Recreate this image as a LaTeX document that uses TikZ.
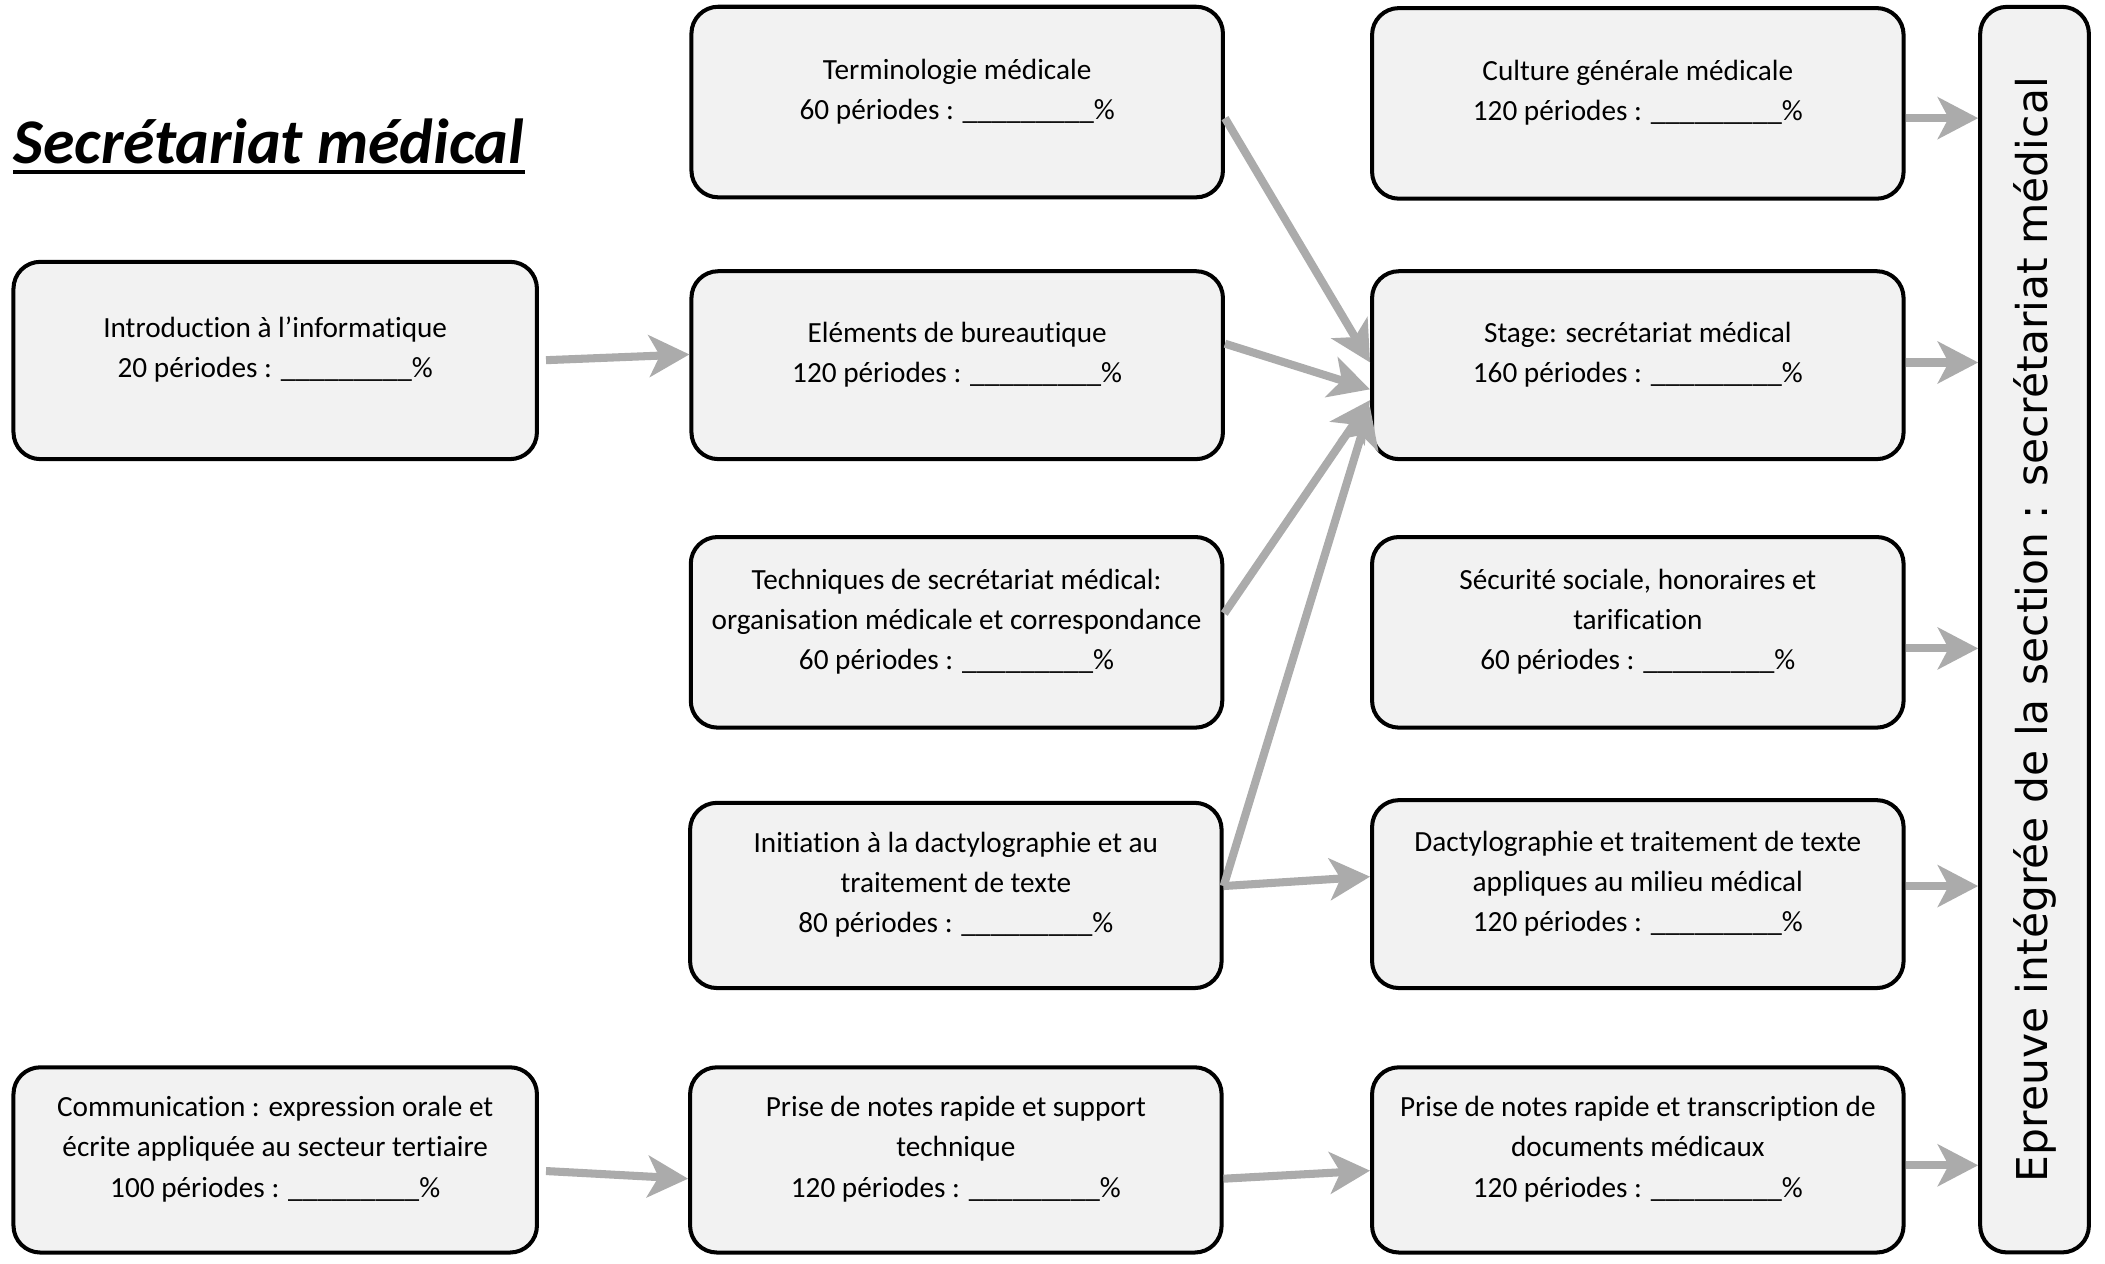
\documentclass[tikz,border=0pt]{standalone}
\usepackage{fontspec}
\setmainfont{Carlito}[Ligatures={TeX,NoCommon,NoContextual}, Contextuals=NoAlternate]
\newfontfamily\epfont{DejaVu Sans}
\usetikzlibrary{arrows.meta}
\definecolor{boxfill}{HTML}{F2F2F2}
\definecolor{arrowgrey}{HTML}{ABABAB}
\newcommand{\pctblank}{\_\_\_\_\_\_\_\_\_\%}

\tikzset{
  module/.style={draw, line width=0.06cm, rounded corners=0.4cm, fill=boxfill,
    minimum width=7.92cm, minimum height=2.8cm},
  modtext/.style={align=center, font=\fontsize{12.4}{17}\selectfont},
  flow/.style={draw=arrowgrey, line width=0.12cm,
    -{Stealth[length=0.6cm, width=0.62cm, inset=0.16cm]}}
}

\begin{document}
\begin{tikzpicture}[x=0.02cm, y=-0.02cm]
\useasboundingbox (0,0) rectangle (1568,941);

% title
\node[anchor=base west, inner sep=0pt, font=\fontsize{27}{32}\selectfont\bfseries\itshape] (title) at (10,122) {Secrétariat médical};
\draw[line width=0.05cm] ([yshift=-0.12cm]title.base west) -- ([yshift=-0.12cm]title.base east);

% left column
\node[module, minimum width=7.8cm, minimum height=2.94cm] (intro) at (205,268.5) {};
\node[modtext] (intro-t) at ([yshift=0.16cm]intro.center) {Introduction à l'informatique\\20 périodes : \pctblank};
\node[module, minimum width=7.8cm, minimum height=2.76cm] (comm) at (205,864) {};
\node[modtext] (comm-t) at ([yshift=0.16cm]comm.center) {Communication : expression orale et\\écrite appliquée au secteur tertiaire\\100 périodes : \pctblank};

% middle column
\node[module, minimum height=2.84cm] (termino) at (713,76) {};
\node[modtext] (termino-t) at ([yshift=0.16cm]termino.center) {Terminologie médicale\\60 périodes : \pctblank};
\node[module] (bureau) at (713,272) {};
\node[modtext] (bureau-t) at ([yshift=0.16cm]bureau.center) {Eléments de bureautique\\120 périodes : \pctblank};
\node[module, minimum height=2.84cm] (techniques) at (712.5,471) {};
\node[modtext] (techniques-t) at ([yshift=0.16cm]techniques.center) {Techniques de secrétariat médical:\\organisation médicale et correspondance\\60 périodes : \pctblank};
\node[module, minimum height=2.76cm] (initiation) at (712,667) {};
\node[modtext] (initiation-t) at ([yshift=0.16cm]initiation.center) {Initiation à la dactylographie et au\\traitement de texte\\80 périodes : \pctblank};
\node[module, minimum height=2.76cm] (prise1) at (712,864) {};
\node[modtext] (prise1-t) at ([yshift=0.16cm]prise1.center) {Prise de notes rapide et support\\technique\\120 périodes : \pctblank};

% right column
\node[module, minimum height=2.84cm] (culture) at (1220,77) {};
\node[modtext] (culture-t) at ([yshift=0.16cm]culture.center) {Culture générale médicale\\120 périodes : \pctblank};
\node[module] (stage) at (1220,272) {};
\node[modtext] (stage-t) at ([yshift=0.16cm]stage.center) {Stage: secrétariat médical\\160 périodes : \pctblank};
\node[module, minimum height=2.84cm] (secu) at (1220,471) {};
\node[modtext] (secu-t) at ([yshift=0.16cm]secu.center) {Sécurité sociale, honoraires et\\tarification\\60 périodes : \pctblank};
\node[module] (dactylo) at (1220,666) {};
\node[modtext] (dactylo-t) at ([yshift=0.16cm]dactylo.center) {Dactylographie et traitement de texte\\appliques au milieu médical\\120 périodes : \pctblank};
\node[module, minimum height=2.76cm] (prise2) at (1220,864) {};
\node[modtext] (prise2-t) at ([yshift=0.16cm]prise2.center) {Prise de notes rapide et transcription de\\documents médicaux\\120 périodes : \pctblank};

% final exam
\node[module, minimum width=1.62cm, minimum height=18.56cm] (epreuve) at (1515.5,469) {};
\node[rotate=90, font=\epfont\fontsize{18}{22}\selectfont] (epreuve-t) at (epreuve.center) {Epreuve intégrée de la section : secrétariat médical};

% arrows
\draw[flow, shorten <=3pt] (intro.east) -- ([yshift=0.16cm]bureau.west);
\draw[flow, shorten <=3pt] ([yshift=-0.16cm]comm.east) -- ([yshift=-0.28cm]prise1.west);
\draw[flow] ([yshift=-0.28cm]prise1.east) -- ([yshift=-0.16cm]prise2.west);

% towards the stage
\draw[flow] ([yshift=-0.24cm]termino.east) -- ([yshift=0.04cm]stage.west);
\draw[flow] ([yshift=0.32cm]bureau.east) -- ([yshift=-0.36cm]stage.west);
\draw[flow] ([yshift=0.28cm]techniques.east) -- ([yshift=-0.52cm]stage.west);
\draw[flow] ([yshift=0.14cm]initiation.east) -- ([yshift=-0.62cm]stage.west);
\draw[flow] ([yshift=0.14cm]initiation.east) -- ([yshift=0.26cm]dactylo.west);

% towards the final exam
\draw[flow] ([yshift=-0.22cm]culture.east) -- ([yshift=-0.22cm]culture.east -| epreuve.west);
\draw[flow] ([yshift=0.04cm]stage.east) -- ([yshift=0.04cm]stage.east -| epreuve.west);
\draw[flow] ([yshift=-0.24cm]secu.east) -- ([yshift=-0.24cm]secu.east -| epreuve.west);
\draw[flow] ([yshift=0.12cm]dactylo.east) -- ([yshift=0.12cm]dactylo.east -| epreuve.west);
\draw[flow] ([yshift=-0.08cm]prise2.east) -- ([yshift=-0.08cm]prise2.east -| epreuve.west);
\end{tikzpicture}
\end{document}
